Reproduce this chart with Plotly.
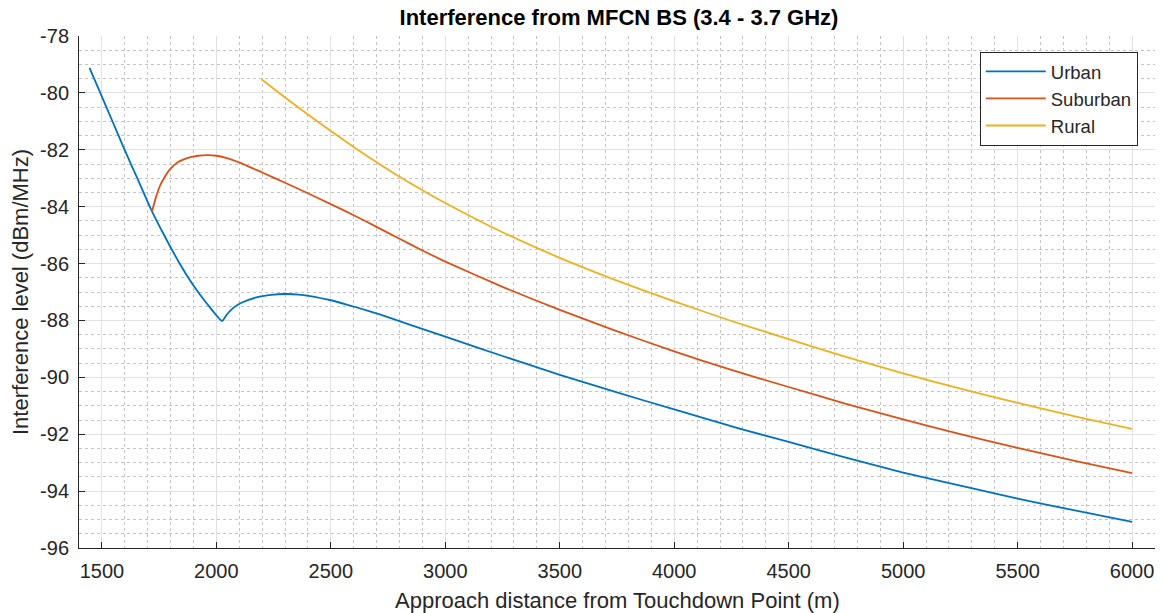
import plotly.graph_objects as go

# Data
urban_x = [1446, 1493, 1545, 1596, 1654, 1712, 1775, 1837, 1900, 1960, 2025,
           2045, 2075, 2110, 2175, 2240, 2300, 2360, 2423, 2500, 2569, 2667, 2714,
           3000, 3250, 3500, 3750, 4000, 4289, 4500, 4750, 5000, 5250, 5500, 5750, 6000]
urban_y = [-79.12, -80.0, -80.98, -81.94, -82.99, -84.05, -85.05, -85.96, -86.77, -87.42, -88.02,
           -87.8, -87.55, -87.38, -87.19, -87.1, -87.07, -87.09, -87.16, -87.29, -87.44, -87.67, -87.79,
           -88.57, -89.25, -89.91, -90.53, -91.13, -91.81, -92.27, -92.82, -93.35, -93.81, -94.26, -94.68, -95.08]

suburban_x = [1719, 1735, 1752, 1775, 1796, 1830, 1869, 1920, 1964, 2000, 2050, 2102,
              2200, 2300, 2400, 2500, 2600, 2700, 2800, 2900, 3000, 3250, 3500, 3733, 4000, 4250,
              4500, 4750, 5000, 5250, 5500, 5750, 6000]
suburban_y = [-84.17, -83.7, -83.3, -82.95, -82.7, -82.45, -82.3, -82.21, -82.19, -82.21, -82.3, -82.45,
              -82.8, -83.16, -83.53, -83.91, -84.3, -84.71, -85.13, -85.54, -85.93, -86.82, -87.63, -88.33,
              -89.09, -89.74, -90.34, -90.93, -91.48, -92.0, -92.48, -92.94, -93.37]

rural_x = [2197, 2300, 2400, 2500, 2600, 2700, 2800, 2900, 3000, 3250, 3500, 3750, 4000,
           4250, 4500, 4750, 5000, 5250, 5500, 5750, 6000]
rural_y = [-79.52, -80.16, -80.76, -81.34, -81.9, -82.44, -82.95, -83.42, -83.87, -84.9, -85.8, -86.6, -87.33,
           -88.02, -88.66, -89.28, -89.86, -90.4, -90.9, -91.37, -91.81]

series_names = ["Urban", "Suburban", "Rural"]
colors = ["#0072BD", "#D95319", "#EDB120"]

x_ticks = [1500, 2000, 2500, 3000, 3500, 4000, 4500, 5000, 5500, 6000]
y_ticks = [-96, -94, -92, -90, -88, -86, -84, -82, -80, -78]

FONT = "Liberation Sans, Arial, Helvetica, sans-serif"
TXT = "#262626"

W, H = 1163, 613
ML, MR, MT, MB = 79, 8, 36, 65

fig = go.Figure()
for name, xs, ys, c in zip(series_names, [urban_x, suburban_x, rural_x],
                           [urban_y, suburban_y, rural_y], colors):
    fig.add_trace(go.Scatter(x=xs, y=ys, mode="lines", name=name,
                             line=dict(color=c, width=1.8, shape="spline", smoothing=0.5)))

axis_common = dict(
    showline=True, linecolor=TXT, linewidth=1, mirror=False,
    ticks="inside", ticklen=6, tickcolor=TXT, tickwidth=1,
    showgrid=True, gridcolor="#e1e1e1", gridwidth=1,
    zeroline=False, tickfont=dict(family=FONT, size=20, color=TXT),
    automargin=False,
)

fig.update_layout(
    width=W, height=H,
    paper_bgcolor="white", plot_bgcolor="white",
    margin=dict(l=ML, r=MR, t=MT, b=MB),
    title=dict(text="<b>Interference from MFCN BS (3.4 - 3.7 GHz)</b>",
               x=619 / W, xanchor="center", y=1 - 17 / H, yanchor="middle",
               font=dict(family=FONT, size=22, color="black")),
    xaxis=dict(range=[1400, 6100], tickvals=x_ticks,
               ticktext=[str(v) for v in x_ticks],
               minor=dict(dtick=100, tick0=1400, showgrid=True, gridcolor="#c4c4c4",
                          griddash="dot", gridwidth=1, ticks=""),
               ticklabelstandoff=5,
               **axis_common),
    yaxis=dict(range=[-96, -78], tickvals=y_ticks,
               ticktext=[str(v) for v in y_ticks],
               minor=dict(dtick=0.5, tick0=-96, showgrid=True, gridcolor="#c4c4c4",
                          griddash="dot", gridwidth=1, ticks=""),
               ticklabelstandoff=5,
               **axis_common),
    legend=dict(x=0.984, xanchor="right", y=0.969, yanchor="top",
                bgcolor="white", bordercolor=TXT, borderwidth=1,
                font=dict(family=FONT, size=18.5, color=TXT),
                itemwidth=60, tracegroupgap=0),
    showlegend=True,
    annotations=[
        dict(text="Approach distance from Touchdown Point (m)", xref="paper", yref="paper",
             x=(617 - ML) / (W - ML - MR), y=-(600 - (H - MB)) / (H - MT - MB),
             xanchor="center", yanchor="middle", showarrow=False,
             font=dict(family=FONT, size=22, color=TXT)),
        dict(text="Interference level (dBm/MHz)", xref="paper", yref="paper",
             x=-(ML - 20) / (W - ML - MR), y=0.5, textangle=-90,
             xanchor="center", yanchor="middle", showarrow=False,
             font=dict(family=FONT, size=22, color=TXT)),
    ],
)

fig.write_html("out.html", config={"displayModeBar": False},
               post_script="document.body.style.margin='0px';document.body.style.overflow='hidden';")
